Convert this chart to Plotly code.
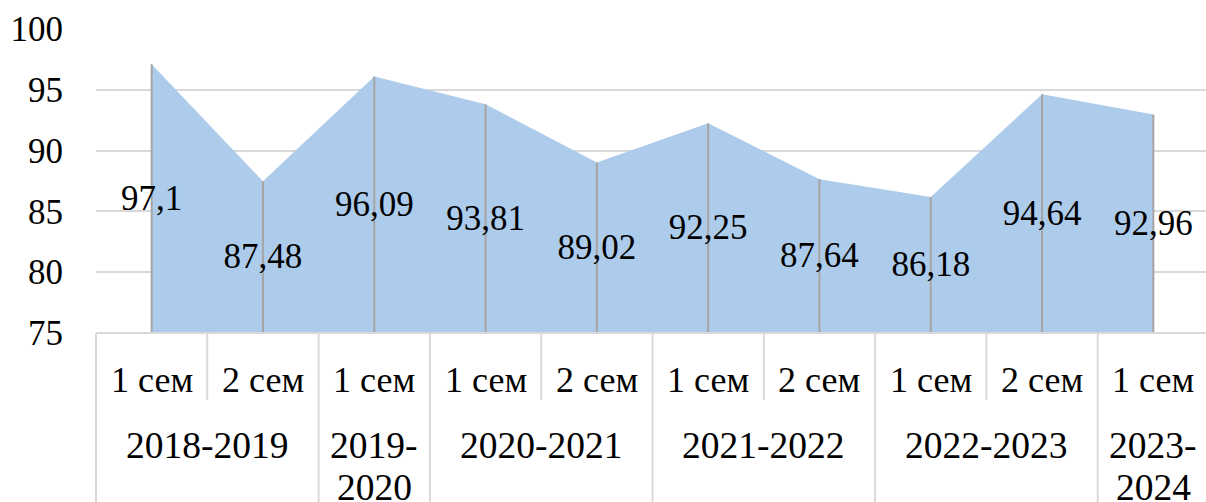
import plotly.graph_objects as go

# ---- data ----
semesters = ["1 сем", "2 сем", "1 сем", "1 сем", "2 сем", "1 сем", "2 сем", "1 сем", "2 сем", "1 сем"]
years = ["2018-2019", "2019-<br>2020", "2020-2021", "2021-2022", "2022-2023", "2023-<br>2024"]
year_counts = [2, 1, 2, 2, 2, 1]
values = [97.1, 87.48, 96.09, 93.81, 89.02, 92.25, 87.64, 86.18, 94.64, 92.96]
value_labels = ["97,1", "87,48", "96,09", "93,81", "89,02", "92,25", "87,64", "86,18", "94,64", "92,96"]
y_ticks = [75, 80, 85, 90, 95, 100]

FONT = "Liberation Serif, Times New Roman, serif"
FS_TICK = 35
FS_LABEL = 35
FS_SEM = 36
FS_YEAR = 37.5
GRID = "#d9d9d9"

x = list(range(1, len(values) + 1))
ymin, ymax = 75, 100

W, HT = 1206, 502
LEFT = 96
TOP, BOTTOM = 29, 333
H = BOTTOM - TOP
CAT_W = 111.3
xr = [0.5, 0.5 + (W - LEFT) / CAT_W]
LABEL_SHIFT = 0.2  # small downward nudge so digits sit at the area's mid-height


def py(p):
    return (BOTTOM - p) / H


def px(xv):
    return (xv - xr[0]) / (xr[1] - xr[0])


fig = go.Figure()

fig.add_trace(go.Scatter(
    x=x, y=values, mode="lines", fill="tozeroy",
    line=dict(width=0, color="#adcbea"), fillcolor="#adcbea",
    hoverinfo="skip", showlegend=False,
))

# drop lines
dx, dy = [], []
for xi, v in zip(x, values):
    dx += [xi, xi, None]
    dy += [ymin, v, None]
fig.add_trace(go.Scatter(
    x=dx, y=dy, mode="lines", line=dict(color="#a5a5a5", width=2),
    hoverinfo="skip", showlegend=False,
))

# data labels at middle of area
fig.add_trace(go.Scatter(
    x=x, y=[(ymin + v) / 2 - LABEL_SHIFT for v in values], mode="text",
    text=value_labels, textposition="middle center",
    textfont=dict(family=FONT, size=FS_LABEL, color="black"),
    hoverinfo="skip", showlegend=False, cliponaxis=False,
))

shapes = []
annotations = []

# bottom axis line
shapes.append(dict(type="line", xref="paper", yref="paper", x0=0, x1=1, y0=0, y1=0,
                   line=dict(color=GRID, width=2)))

# semester labels
for i, s in enumerate(semesters):
    annotations.append(dict(x=x[i], xref="x", y=py(380), yref="paper", text=s,
                            showarrow=False, xanchor="center", yanchor="middle",
                            font=dict(family=FONT, size=FS_SEM, color="black")))

# year labels and separators
pos = 0.5
shapes.append(dict(type="line", xref="paper", yref="paper", x0=px(pos), x1=px(pos),
                   y0=0, y1=py(520), line=dict(color=GRID, width=2)))
for yl, c in zip(years, year_counts):
    for k in range(1, c):
        xs = pos + k
        shapes.append(dict(type="line", xref="paper", yref="paper", x0=px(xs), x1=px(xs),
                           y0=0, y1=py(400), line=dict(color=GRID, width=2)))
    center = pos + c / 2
    for li, line in enumerate(yl.split("<br>")):
        annotations.append(dict(x=px(center), xref="paper", y=py(445 + 43 * li), yref="paper",
                                text=line, showarrow=False, xanchor="center", yanchor="middle",
                                font=dict(family=FONT, size=FS_YEAR, color="black")))
    pos += c
    shapes.append(dict(type="line", xref="paper", yref="paper", x0=px(pos), x1=px(pos),
                       y0=0, y1=py(520), line=dict(color=GRID, width=2)))

fig.update_layout(
    width=W, height=HT,
    margin=dict(l=LEFT, r=0, t=TOP, b=HT - BOTTOM),
    paper_bgcolor="white", plot_bgcolor="white",
    showlegend=False,
    xaxis=dict(range=xr, showticklabels=False, showgrid=False, zeroline=False,
               showline=False, ticks=""),
    yaxis=dict(range=[ymin, ymax], tickvals=y_ticks, showgrid=True, gridcolor=GRID,
               gridwidth=2, zeroline=False, showline=False, ticks="",
               ticklabelstandoff=32,
               tickfont=dict(family=FONT, size=FS_TICK, color="black")),
    shapes=shapes,
    annotations=annotations,
)

fig.write_html(
    "out.html",
    config={"displayModeBar": False},
    post_script="document.body.style.margin='0';document.body.style.overflow='hidden';",
)
